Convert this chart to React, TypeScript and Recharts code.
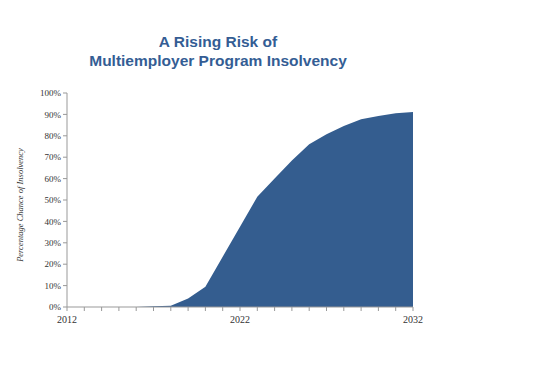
import { AreaChart, Area, XAxis, YAxis } from "recharts";

const years = [2012, 2013, 2014, 2015, 2016, 2017, 2018, 2019, 2020, 2021, 2022, 2023, 2024, 2025, 2026, 2027, 2028, 2029, 2030, 2031, 2032];
const chance = [0, 0, 0, 0, 0, 0.3, 0.6, 4, 9.5, 23.5, 37.5, 51.5, 60, 68.5, 76, 80.7, 84.6, 87.7, 89.3, 90.5, 91.1];
const yTicks = [0, 10, 20, 30, 40, 50, 60, 70, 80, 90, 100];
const labeledYears = [2012, 2022, 2032];

const data = years.map((y, i) => ({ year: y, chance: chance[i] }));

const serif = "'Liberation Serif', 'Times New Roman', serif";

export default function App() {
    return (
        <div style={{ position: "relative", width: 526, height: 371 }}>
            <div
                style={{
                    position: "absolute",
                    left: 0,
                    top: 24,
                    width: 420,
                    textAlign: "center",
                    fontFamily: "'Liberation Sans', Arial, sans-serif",
                    fontWeight: "bold",
                    fontSize: 15.5,
                    lineHeight: "19px",
                    color: "#345d94",
                }}
            >
                A Rising Risk of
                <br />
                Multiemployer Program Insolvency
            </div>
            <div
                style={{
                    position: "absolute",
                    left: 12,
                    top: 197,
                    transform: "translate(-50%, -50%) rotate(-90deg)",
                    whiteSpace: "nowrap",
                    fontFamily: serif,
                    fontStyle: "italic",
                    fontSize: 8.5,
                    color: "#333",
                }}
            >
                Percentage Chance of Insolvency
            </div>
            <AreaChart
                width={526}
                height={371}
                data={data}
                margin={{ top: 85, right: 121, bottom: 52, left: 0 }}
            >
                <XAxis
                    dataKey="year"
                    type="number"
                    domain={[2012, 2032]}
                    ticks={years}
                    interval={0}
                    tickSize={4}
                    height={20}
                    tickFormatter={(v: number) => (labeledYears.includes(v) ? String(v) : "")}
                    tick={{ fontFamily: serif, fontSize: 10, fill: "#333", dy: 3 }}
                    stroke="#999"
                />
                <YAxis
                    domain={[0, 100]}
                    ticks={yTicks}
                    interval={0}
                    width={59}
                    tickSize={4}
                    tickFormatter={(v: number) => `${v}%`}
                    tick={{ fontFamily: serif, fontSize: 9, fill: "#333" }}
                    stroke="#999"
                />
                <Area
                    type="linear"
                    dataKey="chance"
                    stroke="none"
                    fill="#345d8f"
                    fillOpacity={1}
                    isAnimationActive={false}
                    dot={false}
                    activeDot={false}
                />
            </AreaChart>
        </div>
    );
}
